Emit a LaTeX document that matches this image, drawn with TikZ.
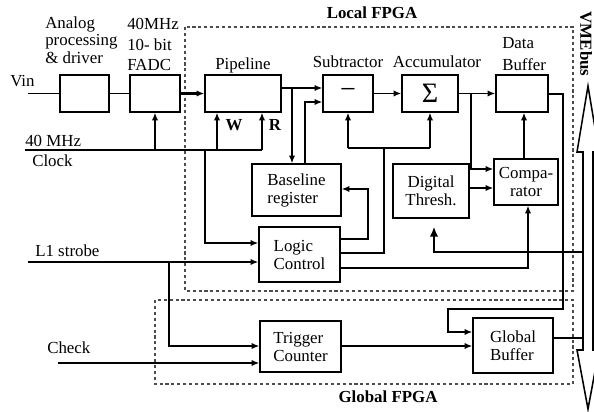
\documentclass[tikz,border=0pt]{standalone}
\usepackage{fontspec}
\setmainfont{Liberation Serif}
\usetikzlibrary{arrows.meta}
\usetikzlibrary{positioning}

\tikzset{
  blk/.style={draw, line width=1pt, inner sep=2pt, align=center, font=\fontsize{12}{12.8}\selectfont},
  lbl/.style={inner sep=0pt, font=\fontsize{12}{12.8}\selectfont},
  wire/.style={line width=1pt},
  thk/.style={line width=1.8pt},
  fpga/.style={draw=black!70, line width=0.8pt, dash pattern=on 2.2pt off 2pt},
  >={Latex[length=5.5pt,width=4.5pt]}
}

\begin{document}
\begin{tikzpicture}[x=0.025cm, y=-0.025cm]
\useasboundingbox (0,0) rectangle (594,412);

%FPGA borders
\draw[fpga] (185,27) rectangle (573,291);
\draw[fpga] (155,300) rectangle (573,384);
\node[lbl, font=\fontsize{12}{12.8}\selectfont\bfseries, anchor=base] (loc) at (372,19) {Local FPGA};
\node[lbl, font=\fontsize{12}{12.8}\selectfont\bfseries, anchor=base] (glo) at (388,403) {Global FPGA};

%blocks
\node[blk, minimum width=1.225cm, minimum height=0.925cm] (ana) at (84.5,93.5) {};
\node[blk, minimum width=1.25cm, minimum height=0.925cm] (fadc) at (155,93.5) {};
\node[blk, minimum width=1.9cm, minimum height=0.925cm] (pipe) at (243,93.5) {};
\node[blk, minimum width=1.25cm, minimum height=0.925cm, font=\fontsize{20}{20}\selectfont] (sub) at (348,93.5) {−};
\node[blk, minimum width=1.4cm, minimum height=0.925cm, font=\fontsize{20}{20}\selectfont] (acc) at (430,93.5) {Σ};
\node[blk, minimum width=1.3cm, minimum height=0.925cm] (dbuf) at (522,93.5) {};
\node[blk, minimum width=2.225cm, minimum height=1.3cm, align=left] (base) at (296.5,190) {Baseline\\register};
\node[blk, minimum width=1.9cm, minimum height=1.35cm] (thr) at (431,191) {Digital\\Thresh.};
\node[blk, minimum width=1.6cm, minimum height=1.15cm] (comp) at (526,182) {Compa-\\rator};
\node[blk, minimum width=2.025cm, minimum height=1.375cm, align=left] (logic) at (299.5,254.5) {Logic\\Control};
\node[blk, minimum width=2.025cm, minimum height=1.275cm, align=left] (trig) at (300.5,346.5) {Trigger\\Counter};
\node[blk, minimum width=2cm, minimum height=1.375cm, align=left] (gbuf) at (513,345.5) {Global\\Buffer};

%block titles
\node[lbl, align=left, anchor=north west, font=\fontsize{12}{12.4}\selectfont] (anat) at (45,16.5) {Analog\\processing\\\& driver};
\node[lbl, align=left, anchor=north west, font=\fontsize{12}{14.5}\selectfont] (fadct) at (127,18.5) {40MHz\\10- bit\\FADC};
\node[lbl, anchor=base] (pipet) at (243,70) {Pipeline};
\node[lbl, anchor=base] (subt) at (348,68) {Subtractor};
\node[lbl, anchor=base] (acct) at (437,68) {Accumulator};
\node[lbl, align=left, anchor=north west, font=\fontsize{12}{15.6}\selectfont] (dbuft) at (502,37.5) {Data\\Buffer};

%inputs
\node[lbl, anchor=base west] (vint) at (10,87) {Vin};
\node[lbl, anchor=base west] (clkt) at (25,147) {40 MHz};
\node[lbl, anchor=base west] (clkt2) at (32,167) {Clock};
\node[lbl, anchor=base west] (l1t) at (35,257) {L1 strobe};
\node[lbl, anchor=base west] (chkt) at (47,354) {Check};
\node[lbl, anchor=base, font=\fontsize{12}{12.8}\selectfont\bfseries] (wt) at (234,131) {W};
\node[lbl, anchor=base, font=\fontsize{12}{12.8}\selectfont\bfseries] (rt) at (275,131) {R};

%VME bus
\draw[line width=1.1pt, fill=white] (588,86) -- (599,152) -- (593,152) -- (593,350) -- (599,350)
  -- (588,409) -- (577,350) -- (583,350) -- (583,152) -- (577,152) -- cycle;
\coordinate (bus) at (583,0);
\node[lbl, rotate=-90, font=\fontsize{12}{12.8}\selectfont\bfseries] (vme) at (586,44) {VMEbus};

%front end and clock
\coordinate (vin0) at (28,93.5);
\draw[wire] (vin0) -- (ana.west);
\draw[wire] (ana) -- (fadc);
\draw[line width=1.5pt, ->] (fadc) -- (pipe);
\coordinate (clk0) at (25,150);
\coordinate (clkL) at (205,150);
\coordinate (clkW) at (217,150);
\coordinate (clkR) at (262,150);
\draw[wire] (clk0) -- (clkR);
\draw[wire,->] (clk0 -| fadc.south) -- (fadc.south);
\draw[wire,->] (clkW) -- (clkW |- pipe.south);
\draw[wire,->] (clkR) -- (clkR |- pipe.south);
\draw[wire,->] (clkL) -- (clkL |- 0,243) -- (logic.west |- 0,243);

%L1 strobe and check
\coordinate (l1) at (28,262);
\coordinate (l1b) at (169,262);
\draw[wire,->] (l1) -- (logic.west |- l1);
\draw[wire,->] (l1b) -- (l1b |- 0,346) -- (trig.west |- 0,346);
\coordinate (chk) at (58,363);
\draw[wire,->] (chk) -- (trig.west |- chk);

%data path
\coordinate (pbr) at (292,88);
\draw[wire,->] (pipe.east |- pbr) -- (sub.west |- pbr);
\draw[wire,->] (pbr) -- (pbr |- base.north);
\draw[wire,->] (base.north -| 305,0) -- (305,102) -- (sub.west |- 0,102);
\draw[wire,->] (sub) -- (acc);
\draw[wire,->] (acc) -- (dbuf);
\coordinate (abr) at (471,93.5);
\draw[wire,->] (abr) -- (abr |- 0,169) -- (comp.west |- 0,169);
\draw[wire,->] (thr.east |- 0,188) -- (comp.west |- 0,188);
\draw[wire,->] (comp.north -| 524,0) -- (dbuf.south -| 524,0);

%logic control outputs
\draw[wire,->] (logic.east |- 0,239) -- (368,239) -- (368,189) -- (base.east |- 0,189);
\draw[wire] (logic.east |- 0,253) -- (384,253) -- (384,148);
\draw[wire] (sub.south |- 0,148) -- (acc.south |- 0,148);
\draw[wire,->] (sub.south |- 0,148) -- (sub.south);
\draw[wire,->] (acc.south |- 0,148) -- (acc.south);
\draw[wire,->] (logic.east |- 0,268) -- (528,268) -- (comp.south -| 528,0);

%global FPGA
\draw[wire,->] (dbuf.east |- 0,94) -- (563,94) -- (563,309) -- (448,309) -- (448,332) -- (gbuf.west |- 0,332);
\draw[wire,->] (trig.east |- 0,346) -- (gbuf.west |- 0,346);
\draw[thk] (gbuf.east |- 0,338) -- (bus |- 0,338);
\draw[thk, -{Latex[length=7pt,width=6pt]}, shorten >=0.2cm] (bus |- 0,252) -- (434,252) -- (thr.south -| 434,0);
\end{tikzpicture}
\end{document}
